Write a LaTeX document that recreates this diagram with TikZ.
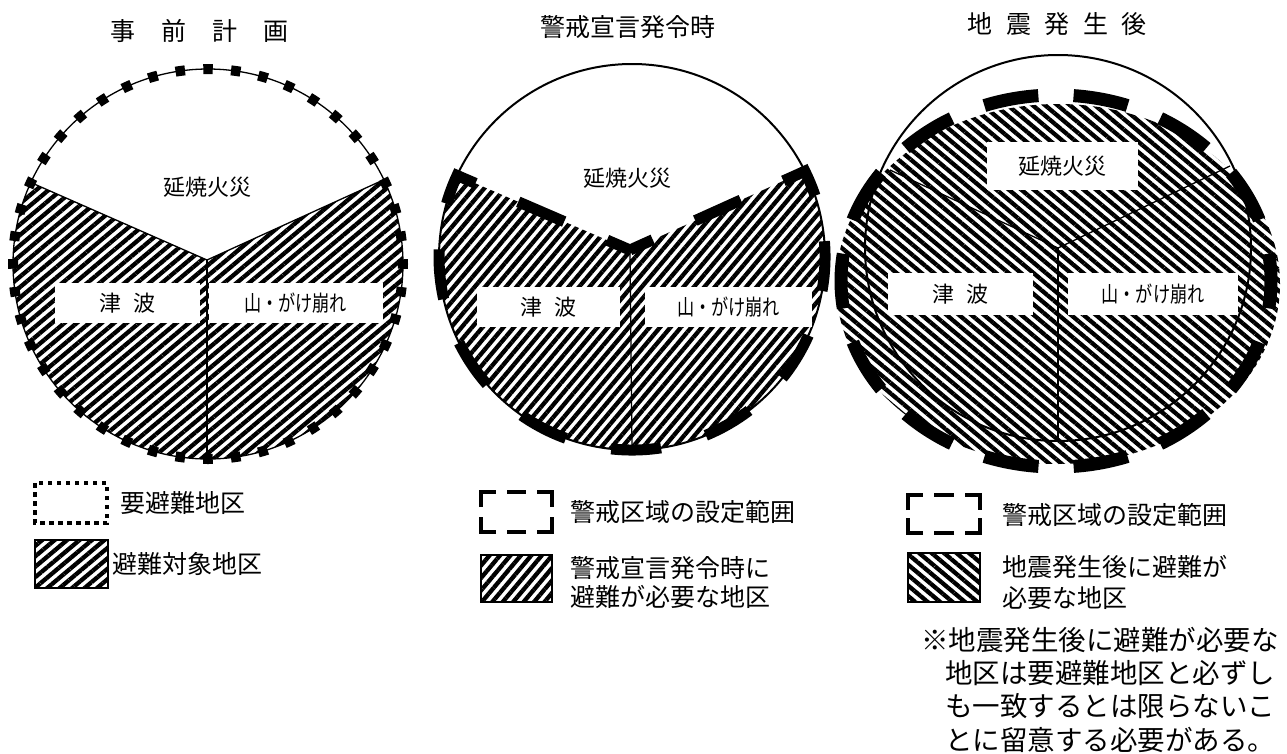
\documentclass[tikz,border=0pt]{standalone}
\usepackage{fontspec}
\setmainfont{Noto Sans CJK JP}
\usetikzlibrary{patterns.meta,calc}
\tikzset{
 hatchA/.style={pattern={Lines[angle=40,distance=8pt,line width=4.3pt]}},
 hatchB/.style={pattern={Lines[angle=50,distance=8pt,line width=4.3pt]}},
 hatchC/.style={pattern={Lines[angle=-40,distance=8pt,line width=4.3pt]}},
 thinline/.style={line width=1.3pt},
 labelbox/.style={fill=white, inner sep=0pt, minimum height=40pt, font=\fontsize{22}{26}\selectfont},
 lbl/.style={inner sep=0pt, font=\fontsize{22}{26}\selectfont},
 legtext/.style={anchor=west, inner sep=0pt, font=\fontsize{25}{30}\selectfont},
 notetext/.style={anchor=west, inner sep=0pt, font=\fontsize{27.5}{32}\selectfont},
 titletext/.style={inner sep=0pt, font=\fontsize{25}{30}\selectfont},
 bracket/.style={line width=4.5pt, line cap=butt},
}
\begin{document}
\begin{tikzpicture}[x=1pt,y=-1pt]
\useasboundingbox (0,0) rectangle (1287,753);

% ---------- titles ----------
\node[titletext] (t1) at (199,31) {事\hspace{26pt}前\hspace{26pt}計\hspace{26pt}画};
\node[titletext] (t2) at (627.5,27) {警戒宣言発令時};
\node[titletext] (t3) at (1057,24) {地\hspace{13.5pt}震\hspace{13.5pt}発\hspace{13.5pt}生\hspace{13.5pt}後};

% ---------- circle 1 ----------
\coordinate (C1) at (208,264);
\coordinate (P1) at (207,260);
\coordinate (L1) at ($(C1)+(204.7:195)$);
\coordinate (R1) at ($(C1)+(-25.6:195)$);
\coordinate (B1) at (207,458);
\path[hatchA] (P1) -- (L1) arc[start angle=204.7, end angle=-25.6, radius=195] -- cycle;
\draw[line width=10pt, dash pattern=on 9.5pt off 18.35pt, dash phase=4.75pt] (C1) ++(-90:195) arc[start angle=-90, end angle=270, radius=195];
\draw[thinline] (C1) circle[radius=195];
\draw[thinline] (L1) -- (P1) -- (R1);
\draw[thinline] (P1) -- (B1);
\node[lbl] (f1) at (207,187) {延焼火災};
\node[labelbox, minimum width=145pt] (tsu1) at (127.5,303) {津\hspace{12pt}波};
\node[labelbox, minimum width=174pt] (yama1) at (295.5,303) {\scalebox{0.78}[1]{山・がけ崩れ}};

% ---------- circle 2 ----------
\coordinate (C2) at (632,257);
\coordinate (P2) at (630,250);
\coordinate (L2) at ($(C2)+(205:193)$);
\coordinate (R2) at ($(C2)+(-26.4:193)$);
\coordinate (B2) at (632,450);
\path[hatchB] (P2) -- (R2) arc[start angle=-26.4, end angle=205, radius=193] -- cycle;
\draw[line width=2pt] (C2) circle[radius=193];
\draw[thinline] (P2) -- (B2);
\draw[line width=11pt, line join=miter, dash pattern=on 50pt off 46.63pt, dash phase=25pt] (P2) -- (R2) arc[start angle=-26.4, end angle=205, radius=193] -- cycle;
\node[lbl] (f2) at (627,178) {延焼火災};
\node[labelbox, minimum width=143pt] (tsu2) at (548.5,307) {津\hspace{12pt}波};
\node[labelbox, minimum width=167pt] (yama2) at (728.5,307) {\scalebox{0.78}[1]{山・がけ崩れ}};

% ---------- circle 3 ----------
\coordinate (C3) at (1058,248);
\coordinate (P3) at (1058,248);
\coordinate (L3) at (890,170);
\coordinate (R3) at (1230,166);
\coordinate (B3) at (1058,440);
\path[hatchC] (1058,284) ellipse[x radius=222, y radius=180];
\draw[line width=13pt, dash pattern=on 55pt off 35.1pt, dash phase=72.5pt] (1056,95) arc[start angle=-90, end angle=270, x radius=215, y radius=186];
\draw[line width=2pt] (C3) circle[radius=193];
\draw[thinline] (L3) -- (P3) -- (R3);
\draw[thinline] (P3) -- (B3);
\node[labelbox, minimum width=151pt, minimum height=48pt] (f3) at (1062.5,166) {延焼火災};
\node[labelbox, minimum width=145pt, minimum height=42pt] (tsu3) at (960.5,294) {津\hspace{12pt}波};
\node[labelbox, minimum width=170pt, minimum height=42pt] (yama3) at (1153,294) {\scalebox{0.78}[1]{山・がけ崩れ}};

% ---------- legend 1 ----------
\draw[line width=4pt, dash pattern=on 4.5pt off 4.5pt] (35,483) rectangle (107,523);
\node[legtext] (lg1a) at (120,503) {要避難地区};
\draw[hatchA, line width=2.2pt] (35,540) rectangle (108,588);
\node[legtext] (lg1b) at (112,564) {避難対象地区};

% ---------- legend 2 ----------
\draw[bracket] (481,507) |- (496,492);
\draw[bracket] (507,492) -- (526,492);
\draw[bracket] (537,492) -| (552,507);
\draw[bracket] (552,517) |- (537,532);
\draw[bracket] (526,532) -- (507,532);
\draw[bracket] (496,532) -| (481,517);
\node[legtext] (lg2a) at (570,512) {警戒区域の設定範囲};
\draw[hatchB, line width=2.2pt] (481,555) rectangle (552,602);
\node[legtext] (lg2b) at (570,568) {警戒宣言発令時に};
\node[legtext] (lg2c) at (570,597) {避難が必要な地区};

% ---------- legend 3 ----------
\draw[bracket] (908,510) |- (923,495);
\draw[bracket] (934,495) -- (954,495);
\draw[bracket] (965,495) -| (980,510);
\draw[bracket] (980,518) |- (965,533);
\draw[bracket] (954,533) -- (934,533);
\draw[bracket] (923,533) -| (908,518);
\node[legtext] (lg3a) at (1002,515) {警戒区域の設定範囲};
\draw[hatchC, line width=2.2pt] (908,553) rectangle (980,602);
\node[legtext] (lg3b) at (1002,567) {地震発生後に避難が};
\node[legtext] (lg3c) at (1002,598) {必要な地区};
\node[notetext] (n1) at (921,640) {※地震発生後に避難が必要な};
\node[notetext] (n2) at (945,673) {地区は要避難地区と必ずし};
\node[notetext] (n3) at (945,706) {も一致するとは限らないこ};
\node[notetext] (n4) at (945,740) {とに留意する必要がある。};
\end{tikzpicture}
\end{document}
